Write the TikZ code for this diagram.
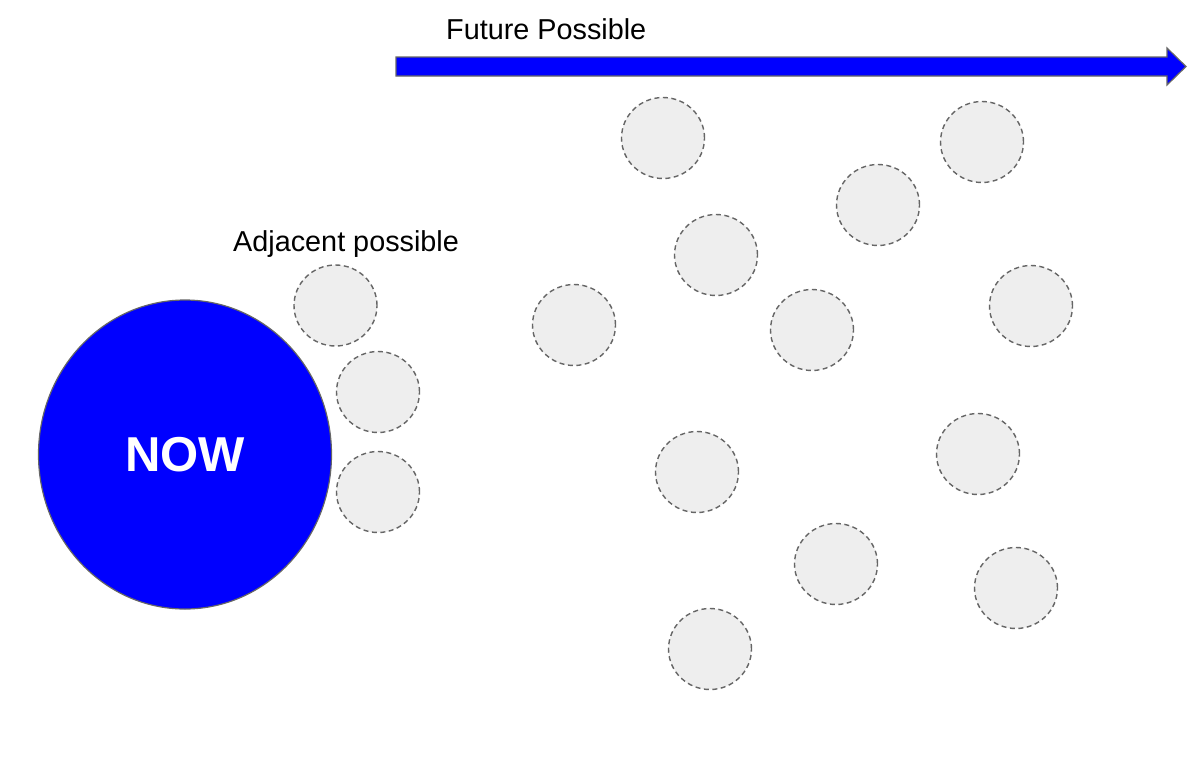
\documentclass[tikz,border=0pt]{standalone}
\usepackage{fontspec}
\setmainfont{Liberation Sans}
\usetikzlibrary{shapes.geometric}
\definecolor{nowblue}{HTML}{0000FF}
\definecolor{bubblefill}{HTML}{EEEEEE}
\definecolor{bubbleline}{HTML}{666666}
\tikzset{
  bubble/.style={ellipse, minimum width=83pt, minimum height=81pt, inner sep=0pt,
    fill=bubblefill, draw=bubbleline, line width=1.4pt, dash pattern=on 5pt off 3.5pt},
  label/.style={anchor=base west, inner sep=0pt, font=\fontsize{28.8}{34}\selectfont},
  nowcircle/.style={ellipse, minimum width=293pt, minimum height=309pt, inner sep=0pt,
    fill=nowblue, draw=bubbleline, line width=1.2pt, text=white,
    font=\fontsize{49}{58}\selectfont\bfseries},
  bigarrow/.style={fill=nowblue, draw=bubbleline, line width=1.2pt}
}
\begin{document}
\begin{tikzpicture}[x=1pt,y=-1pt]
\useasboundingbox (0,0) rectangle (1199,761);
% arrow
\coordinate (a1) at (396,57);
\coordinate (a2) at (1167,57);
\coordinate (a3) at (1167,48);
\coordinate (a4) at (1186,66.5);
\coordinate (a5) at (1167,85);
\coordinate (a6) at (1167,76);
\coordinate (a7) at (396,76);
\draw[bigarrow] (a1) -- (a2) -- (a3) -- (a4) -- (a5) -- (a6) -- (a7) -- cycle;
\node[label] (future) at (446,39) {Future Possible};
\node[label] (adjacent) at (233,251) {Adjacent possible};
\node[nowcircle] (now) at (185,454.5) {NOW};
% adjacent bubbles
\node[bubble] (b1) at (335.5,305.5) {};
\node[bubble] (b2) at (378,392) {};
\node[bubble] (b3) at (378,492) {};
% future bubbles
\node[bubble] (f1) at (663,138) {};
\node[bubble] (f2) at (982,142) {};
\node[bubble] (f3) at (878,205) {};
\node[bubble] (f4) at (716,255) {};
\node[bubble] (f5) at (574,325) {};
\node[bubble] (f6) at (812,330) {};
\node[bubble] (f7) at (1031,306) {};
\node[bubble] (f8) at (697,472) {};
\node[bubble] (f9) at (978,454) {};
\node[bubble] (f10) at (836,564) {};
\node[bubble] (f11) at (1016,588) {};
\node[bubble] (f12) at (710,649) {};
\end{tikzpicture}
\end{document}
